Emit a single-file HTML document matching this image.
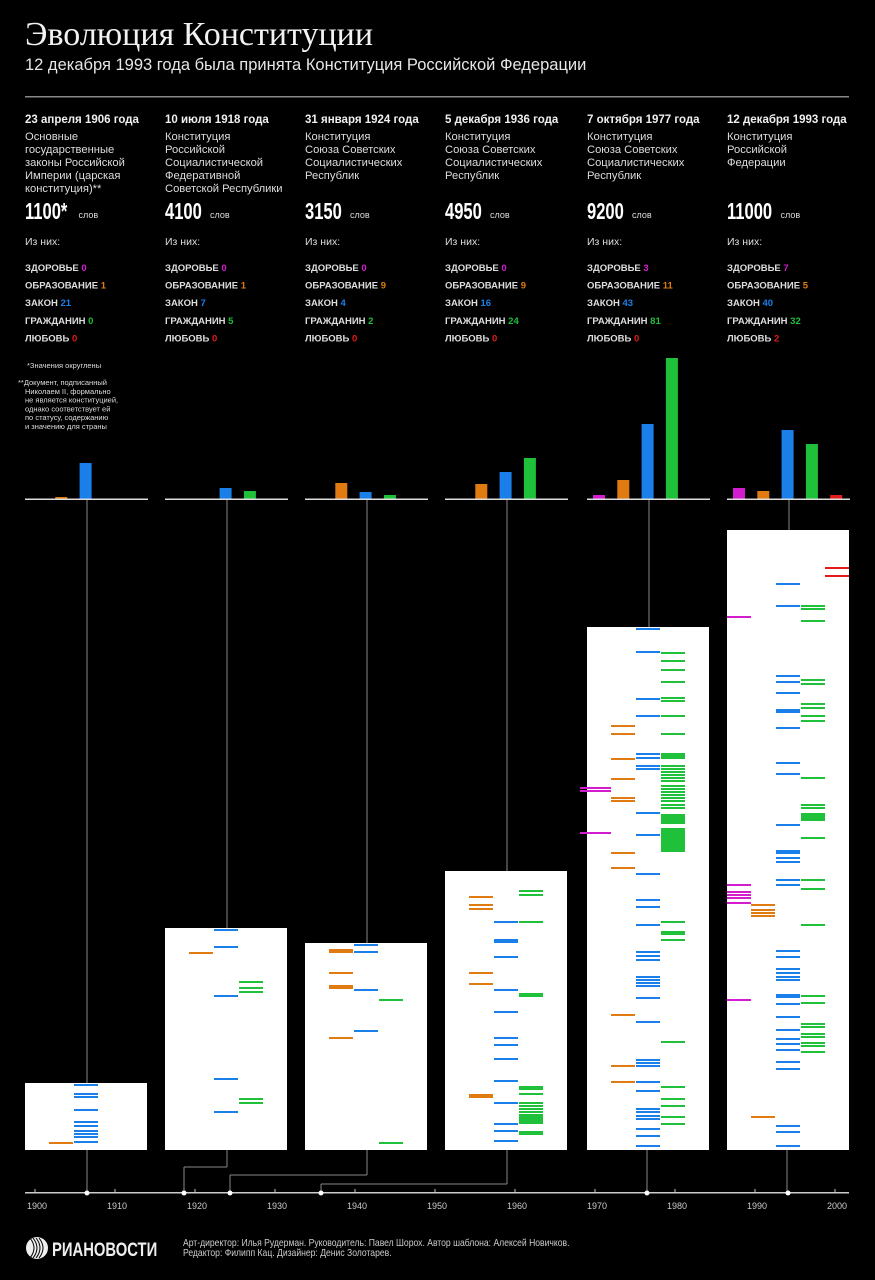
<!DOCTYPE html>
<html><head><meta charset="utf-8"><style>
body{margin:0;background:#000;}
svg{display:block}
.t{font-family:"Liberation Sans","DejaVu Sans",sans-serif;fill:#e6e6e6}
</style></head><body>
<svg id="s" width="875" height="1280" xmlns="http://www.w3.org/2000/svg" style="background:#000">
<text x="25" y="45" font-family="Liberation Serif,serif" font-size="34" fill="#f2f2f2">Эволюция Конституции</text>
<text x="25" y="70" class="t" font-size="16.5" fill="#ddd">12 декабря 1993 года была принята Конституция Российской Федерации</text>
<rect x="25" y="96" width="824" height="1.5" fill="#888"/>
<g id="g"></g>
</svg>
<script>
const NS="http://www.w3.org/2000/svg",g=document.getElementById('g');
function el(t,a,txt){const e=document.createElementNS(NS,t);for(const k in a)e.setAttribute(k,a[k]);if(txt!==undefined)e.textContent=txt;g.appendChild(e);return e;}
const C={m:'#d41ccf',o:'#e07b12',b:'#1a7fe8',g:'#1fc03a',r:'#e41b1b'};
const cols=[
{x:25,date:'23 апреля 1906 года',desc:['Основные','государственные','законы Российской','Империи (царская','конституция)**'],n:'1100*',v:[0,1,21,0,0],top:1083,bars:[0,497,463,0,0],
L:{o:[1143],b:[1085,1094,1097,1110,1122,1126,1131,1134,1137,1142]}},
{x:165,date:'10 июля 1918 года',desc:['Конституция','Российской','Социалистической','Федеративной','Советской Республики'],n:'4100',v:[0,1,7,5,0],top:928,bars:[0,0,488,491,0],
L:{o:[953],b:[930,947,996,1079,1112],g:[982,988,992,1099,1103]}},
{x:305,date:'31 января 1924 года',desc:['Конституция','Союза Советских','Социалистических','Республик'],n:'3150',v:[0,9,4,2,0],top:943,bars:[0,483,492,495,0],
L:{o:[950,952,973,986,988,1038],b:[945,952,990,1031],g:[1000,1143]}},
{x:445,date:'5 декабря 1936 года',desc:['Конституция','Союза Советских','Социалистических','Республик'],n:'4950',v:[0,9,16,24,0],top:871,bars:[0,484,472,458,0],
L:{o:[897,905,909,973,984,1095,1097],b:[922,940,942,957,990,1012,1038,1045,1059,1081,1103,1124,1131,1141],g:[891,895,922,994,996,1087,1089,1094,1103,1106,1109,1112,1115,1117,1119,1121,1123,1132,1134]}},
{x:587,date:'7 октября 1977 года',desc:['Конституция','Союза Советских','Социалистических','Республик'],n:'9200',v:[3,11,43,81,0],top:627,bars:[495,480,424,358,0],
L:{m:[788,791,833],o:[726,734,759,779,798,801,853,868,1015,1066,1082],b:[629,652,699,716,754,758,766,769,813,835,874,900,907,925,952,956,960,977,980,983,986,998,1022,1060,1063,1066,1082,1091,1109,1112,1116,1119,1129,1136,1146],
g:[653,661,670,682,698,701,716,734,754,756,758,766,769,772,775,778,781,786,789,792,795,798,801,805,808,815,817,819,821,823,829,831,833,835,837,839,841,843,845,847,849,851,922,932,934,940,1042,1087,1099,1106,1117,1124]}},
{x:727,date:'12 декабря 1993 года',desc:['Конституция','Российской','Федерации'],n:'11000',v:[7,5,40,32,2],top:530,bars:[488,491,430,444,495],
L:{r:[568,576],m:[617,885,892,895,898,903,1000],o:[905,910,913,916,1117],b:[584,606,676,682,693,710,712,728,763,774,825,851,853,858,862,880,885,951,957,969,973,977,980,995,997,1004,1017,1030,1039,1044,1050,1062,1069,1126,1132,1146],
g:[606,609,621,680,684,704,708,716,721,778,805,808,814,816,818,820,838,880,889,925,996,1003,1024,1027,1034,1037,1043,1046,1052]}}
];
const names=['ЗДОРОВЬЕ','ОБРАЗОВАНИЕ','ЗАКОН','ГРАЖДАНИН','ЛЮБОВЬ'],ck=['m','o','b','g','r'];
const F='"Liberation Sans","DejaVu Sans",sans-serif';
cols.forEach((c,i)=>{
 const cx=c.x+62;
 el('text',{x:c.x,y:123,'font-family':F,'font-size':11.5,'font-weight':'bold',fill:'#f0f0f0'},c.date);
 c.desc.forEach((d,j)=>el('text',{x:c.x,y:140+j*13,'font-family':F,'font-size':11.2,fill:'#ddd'},d));
 el('text',{x:c.x,y:219,'font-family':F,'font-size':23,'font-weight':'bold',fill:'#fff',transform:`translate(${c.x} 0) scale(0.72 1) translate(${-c.x} 0)`},c.n);
 el('text',{x:c.x+c.n.length*8.5+11,y:218,'font-family':F,'font-size':9,fill:'#ddd'},'слов');
 el('text',{x:c.x,y:245,'font-family':F,'font-size':10.5,fill:'#ddd'},'Из них:');
 names.forEach((nm,j)=>{const t=el('text',{x:c.x,y:271+j*17.6,'font-family':F,'font-size':9.5,'font-weight':'bold',fill:'#ddd'},nm+' ');
  const ts=document.createElementNS(NS,'tspan');ts.setAttribute('fill',C[ck[j]]);ts.textContent=c.v[j];t.appendChild(ts);});
 el('rect',{x:cx-0.5,y:500,width:1,height:c.top-500,fill:'#888'});
 c.bars.forEach((y,k)=>{if(y)el('rect',{x:c.x+6+24.3*k,y:y,width:12,height:499-y,fill:C[ck[k]]});});
 el('rect',{x:c.x,y:498.5,width:123,height:1.5,fill:'#ddd'});
 el('rect',{x:c.x,y:c.top,width:122,height:1150-c.top,fill:'#fff'});
 for(const k in c.L){const off={m:0,o:24,b:49,g:74,r:98}[k];let w=24,x0=c.x+off;if(k=='m'&&i==4){x0=580;w=31;}
  c.L[k].forEach(y=>el('rect',{x:x0,y:y-1,width:w,height:2,fill:C[k]}));}
});
el('text',{x:27,y:368,'font-family':F,'font-size':7.5,fill:'#ddd'},'*Значения округлены');
['**Документ, подписанный','Николаем II, формально','не является конституцией,','однако соответствует ей','по статусу, содержанию','и значению для страны'].forEach((t,j)=>el('text',{x:j?25:18,y:385+j*8.8,'font-family':F,'font-size':7.5,fill:'#ddd'},t));
const gl='#888';
function ln(x1,y1,x2,y2){el('line',{x1,y1,x2,y2,stroke:gl,'stroke-width':1});}
ln(87,1150,87,1193);ln(227,1150,227,1167);ln(227,1167,184,1167);ln(184,1167,184,1193);
ln(367,1150,367,1175);ln(367,1175,230,1175);ln(230,1175,230,1193);
ln(507,1150,507,1184);ln(507,1184,321,1184);ln(321,1184,321,1193);
ln(647,1150,647,1193);ln(787,1150,787,1193);
el('rect',{x:25,y:1192,width:824,height:1.5,fill:'#ccc'});
for(let y=1900;y<=2000;y+=10){const x=35+8*(y-1900);el('rect',{x:x-0.5,y:1189,width:1,height:4,fill:'#ccc'});
 el('text',{x:x+2,y:1209,'font-family':F,'font-size':9,fill:'#ccc','text-anchor':'middle'},y);}
[87,184,230,321,647,788].forEach(x=>el('circle',{cx:x,cy:1193,r:2.5,fill:'#fff'}));
el('circle',{cx:37,cy:1248,r:11,fill:'#eee'});
for(let k=0;k<4;k++)el('path',{d:`M${30+k*3} 1238 q8 10 0 20`,stroke:'#000','stroke-width':1,fill:'none'});
el('text',{x:52,y:1256,'font-family':F,'font-size':19,'font-weight':'bold',fill:'#eee',transform:'translate(52 0) scale(0.78 1) translate(-52 0)'},'РИАНОВОСТИ');
el('text',{x:183,y:1246,'font-family':F,'font-size':10,fill:'#ccc',transform:'translate(183 0) scale(0.86 1) translate(-183 0)'},'Арт-директор: Илья Рудерман. Руководитель: Павел Шорох. Автор шаблона: Алексей Новичков.');
el('text',{x:183,y:1256,'font-family':F,'font-size':10,fill:'#ccc',transform:'translate(183 0) scale(0.86 1) translate(-183 0)'},'Редактор: Филипп Кац. Дизайнер: Денис Золотарев.');
</script>
</body></html>
